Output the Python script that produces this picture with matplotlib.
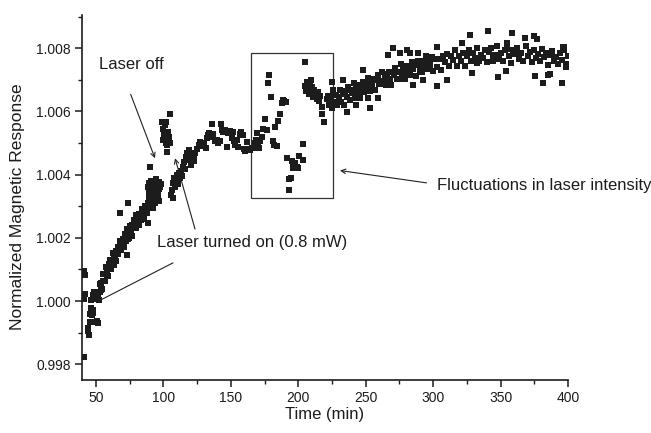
import matplotlib
matplotlib.use("Agg")
import matplotlib.pyplot as plt
from matplotlib.patches import Rectangle
from matplotlib.ticker import MultipleLocator, FormatStrFormatter

plt.rcParams['font.family'] = ['Liberation Sans', 'DejaVu Sans']

# ---------------- data ----------------
# early points, laser off
early_t = [41.3, 41.3, 41.6, 40.9, 41.8, 44.0, 44.4, 44.8, 45.7, 45.3, 46.2, 47.0, 47.9, 46.6,
           47.5, 49.2, 50.5, 51.4, 46.6, 47.9, 48.8, 49.7, 50.5, 51.4, 52.3, 52.8, 48.4]
early_r = [0.99824, 1.00096, 1.00082, 1.00008, 1.00022, 0.99905, 0.99915, 0.99892, 0.99935,
           0.99958, 0.99966, 0.99955, 0.99972, 0.99978, 0.99962, 0.99933, 0.99936, 0.99930,
           1.00002, 1.00018, 1.00008, 1.00024, 1.00012, 1.00020, 1.00004, 1.00030, 1.00030]

# rising band
rise_t = [53.0, 53.5, 54.0, 54.5, 55.0, 55.5, 56.0, 56.5, 57.0, 57.5, 58.0, 58.5, 59.0, 59.5,
          60.0, 60.5, 61.0, 61.5, 62.0, 62.5, 63.0, 63.5, 64.0, 64.5, 65.0, 65.5, 66.0, 66.5,
          67.0, 67.5, 68.0, 68.5, 69.0, 69.5, 70.0, 70.5, 71.0, 71.5, 72.0, 72.5, 73.0, 73.5,
          74.0, 74.5, 75.0, 75.5, 76.0, 76.5, 77.0, 77.5, 78.0, 78.5, 79.0, 79.5, 80.0, 80.5,
          81.0, 81.5, 82.0, 82.5, 83.0, 83.5, 84.0, 84.5, 85.0, 85.5, 86.0, 86.5, 87.0, 87.5,
          88.0, 88.5, 89.0, 89.5, 90.0, 90.5, 91.0, 91.5, 92.0, 92.5, 93.0, 93.5, 94.0, 94.5,
          95.0, 95.5, 96.0, 96.5, 97.0, 67.8, 72.7, 73.9, 88.8]
rise_r = [1.00054, 1.00036, 1.00056, 1.00038, 1.00087, 1.00063, 1.00085, 1.00063, 1.00085,
          1.00108, 1.00081, 1.00103, 1.00079, 1.00118, 1.00106, 1.00131, 1.00103, 1.00129,
          1.00124, 1.00151, 1.00115, 1.00141, 1.00132, 1.00157, 1.00127, 1.00154, 1.00172,
          1.00149, 1.00171, 1.00163, 1.00191, 1.00161, 1.00180, 1.00175, 1.00197, 1.00170,
          1.00198, 1.00211, 1.00191, 1.00200, 1.00227, 1.00197, 1.00216, 1.00200, 1.00229,
          1.00237, 1.00220, 1.00207, 1.00242, 1.00235, 1.00255, 1.00231, 1.00249, 1.00232,
          1.00273, 1.00250, 1.00264, 1.00241, 1.00275, 1.00258, 1.00272, 1.00257, 1.00292,
          1.00275, 1.00288, 1.00261, 1.00290, 1.00301, 1.00280, 1.00293, 1.00278, 1.00309,
          1.00295, 1.00324, 1.00293, 1.00315, 1.00308, 1.00329, 1.00296, 1.00326, 1.00314,
          1.00334, 1.00310, 1.00332, 1.00348, 1.00322, 1.00337, 1.00316, 1.00354,
          1.00278, 1.00146, 1.00310, 1.00246]

# cluster just before the laser-off arrow tip
off_t = [88.5, 89.5, 90.3, 91.0, 91.8, 92.5, 93.2, 94.0, 94.8, 95.5, 96.3, 97.0, 97.8, 98.5,
         90.0, 89.0, 93.5]
off_r = [1.00360, 1.00372, 1.00352, 1.00380, 1.00365, 1.00345, 1.00375, 1.00358, 1.00385,
         1.00362, 1.00348, 1.00378, 1.00360, 1.00370, 1.00425, 1.00342, 1.00340]

# high cluster (laser off)
high_t = [99.0, 100.0, 101.2, 99.5, 100.5, 101.5, 102.5, 100.0, 101.8, 103.0, 103.6, 104.5,
          102.6, 104.9, 102.0, 103.5, 104.0]
high_r = [1.00565, 1.00568, 1.00558, 1.00545, 1.00530, 1.00520, 1.00528, 1.00510, 1.00500,
          1.00495, 1.00512, 1.00500, 1.00473, 1.00593, 1.00565, 1.00535, 1.00520]

# recovery after laser turned on
rec_t = [105.5, 106.3, 107.0, 107.3, 108.0, 108.8, 109.5, 110.2, 111.0, 111.8, 112.5, 113.2,
         114.0, 114.7, 115.5, 116.2, 117.0, 117.8, 118.5, 119.3, 120.0, 120.8, 121.5, 122.3,
         123.0]
rec_r = [1.00335, 1.00350, 1.00372, 1.00325, 1.00390, 1.00362, 1.00380, 1.00398, 1.00370,
         1.00405, 1.00388, 1.00410, 1.00395, 1.00425, 1.00440, 1.00418, 1.00455, 1.00470,
         1.00445, 1.00478, 1.00462, 1.00432, 1.00470, 1.00455, 1.00442]

# plateau
plat_t = [123.5, 125.0, 126.0, 127.1, 128.5, 130.0, 131.2, 132.0, 133.0, 134.0, 135.0, 135.8,
          136.7, 138.2, 139.5, 140.5, 141.9, 142.7, 143.2, 144.5, 146.0, 146.9, 147.5, 149.0,
          150.6, 151.8, 152.5, 153.0, 154.3, 155.5, 156.7, 157.8, 159.2, 159.5, 160.8, 161.7,
          162.8, 164.0, 165.3]
plat_r = [1.00470, 1.00482, 1.00495, 1.00504, 1.00490, 1.00500, 1.00485, 1.00515, 1.00525,
          1.00532, 1.00520, 1.00560, 1.00528, 1.00505, 1.00510, 1.00500, 1.00508, 1.00560,
          1.00540, 1.00535, 1.00540, 1.00489, 1.00532, 1.00538, 1.00515, 1.00534, 1.00505,
          1.00495, 1.00510, 1.00489, 1.00530, 1.00536, 1.00526, 1.00480, 1.00475, 1.00504,
          1.00482, 1.00478, 1.00484]

# fluctuation region (inside the box)
fluc_t = [166.6, 167.8, 168.5, 169.1, 170.3, 171.0, 171.8, 172.8, 174.0, 175.3, 176.5, 177.3,
          178.5, 179.5, 181.0, 181.8, 182.7, 184.0, 185.1, 186.4, 187.6, 188.6, 189.6, 190.8,
          191.8, 193.1, 194.3, 195.0, 196.3, 197.5, 198.8, 200.0, 200.7, 203.2, 203.7, 204.9,
          205.2, 205.8, 206.5, 207.2, 207.8, 208.5, 209.2, 209.8, 210.5, 211.2, 212.0, 212.8,
          213.5, 214.3, 215.0, 215.8, 217.3, 217.5, 219.0, 193.3, 196.0]
fluc_r = [1.00484, 1.00500, 1.00510, 1.00531, 1.00490, 1.00484, 1.00505, 1.00520, 1.00544,
          1.00575, 1.00540, 1.00691, 1.00716, 1.00647, 1.00508, 1.00495, 1.00550, 1.00491,
          1.00571, 1.00592, 1.00626, 1.00636, 1.00632, 1.00630, 1.00452, 1.00352, 1.00389,
          1.00444, 1.00420, 1.00436, 1.00425, 1.00420, 1.00459, 1.00497, 1.00447, 1.00755,
          1.00680, 1.00665, 1.00692, 1.00672, 1.00655, 1.00685, 1.00700, 1.00660, 1.00678,
          1.00645, 1.00668, 1.00652, 1.00640, 1.00660, 1.00633, 1.00648, 1.00615, 1.00592,
          1.00568, 1.00385, 1.00430]

# late slow rise (main band)
late_t = [222, 223, 224, 225, 226, 227, 228, 229, 230, 231, 232, 233, 234, 235, 236, 237, 238,
          239, 240, 241, 242, 243, 244, 245, 246, 247, 248, 249, 250, 251, 252, 253, 254, 255,
          256, 257, 258, 259, 260, 261, 262, 263, 264, 265, 266, 267, 268, 269, 270, 271, 272,
          273, 274, 275, 276, 277, 278, 279, 280, 281, 282, 283, 284, 285, 286, 287, 288, 289,
          290, 291, 292, 293, 294, 295, 296, 297, 298, 299, 300, 301,
          302.5, 304, 305.5, 307, 308.5, 310, 311.5, 313, 314.5, 316, 317.5, 319, 320.5, 322,
          323.5, 325, 326.5, 328, 329.5, 331, 332.5, 334, 335.5, 337, 338.5, 340, 341.5, 343,
          344.5, 346, 347.5, 349, 350.5, 352, 353.5, 355, 356.5, 358, 359.5, 361, 362.5, 364,
          365.5, 367, 368.5, 370, 371.5, 373, 374.5, 376, 377.5, 379, 380.5, 382, 383.5, 385,
          386.5, 388, 389.5, 391, 392.5, 394, 395.5, 397, 398.5, 400]
late_r = [1.00648, 1.00620, 1.00638, 1.00610, 1.00667, 1.00630, 1.00652, 1.00621, 1.00645,
          1.00669, 1.00631, 1.00655, 1.00621, 1.00665, 1.00647, 1.00676, 1.00637, 1.00667,
          1.00657, 1.00689, 1.00641, 1.00670, 1.00656, 1.00684, 1.00644, 1.00675, 1.00694,
          1.00662, 1.00687, 1.00674, 1.00706, 1.00666, 1.00687, 1.00679, 1.00704, 1.00667,
          1.00700, 1.00714, 1.00686, 1.00695, 1.00726, 1.00686, 1.00707, 1.00684, 1.00718,
          1.00725, 1.00703, 1.00684, 1.00726, 1.00714, 1.00737, 1.00704, 1.00725, 1.00701,
          1.00751, 1.00719, 1.00735, 1.00703, 1.00744, 1.00720, 1.00736, 1.00715, 1.00757,
          1.00734, 1.00748, 1.00713, 1.00747, 1.00758, 1.00730, 1.00745, 1.00724, 1.00760,
          1.00741, 1.00775, 1.00734, 1.00759, 1.00748, 1.00772, 1.00729, 1.00765,
          1.00740, 1.00765, 1.00730, 1.00774, 1.00755, 1.00783, 1.00745, 1.00774, 1.00763,
          1.00794, 1.00745, 1.00774, 1.00759, 1.00786, 1.00745, 1.00775, 1.00793, 1.00760,
          1.00784, 1.00770, 1.00801, 1.00759, 1.00779, 1.00770, 1.00793, 1.00756, 1.00788,
          1.00800, 1.00771, 1.00779, 1.00808, 1.00766, 1.00786, 1.00761, 1.00793, 1.00799,
          1.00775, 1.00754, 1.00794, 1.00781, 1.00802, 1.00767, 1.00786, 1.00760, 1.00808,
          1.00775, 1.00788, 1.00755, 1.00793, 1.00768, 1.00781, 1.00758, 1.00798, 1.00773,
          1.00786, 1.00748, 1.00780, 1.00790, 1.00759, 1.00772, 1.00749, 1.00784, 1.00762,
          1.00794, 1.00751, 1.00774]

# scattered points around the late band
scat_t = [270.4, 266.7, 275.3, 282.8, 288.9, 248.1, 233.3, 224.7, 235.8, 242.7, 251.9, 259.3,
          253.1, 285.2, 266.7, 327.2, 340.8, 358.8, 368.0, 374.7, 377.1, 396.4, 398.4, 395.2,
          385.3, 381.6, 375.4, 353.9, 348.2, 344.1, 332.2, 328.5, 302.6, 310.0, 280.3, 303.0,
          354.9, 321.1, 396.9, 292.6, 386.5, 221.0, 226.0, 230.9]
scat_r = [1.00800, 1.00779, 1.00784, 1.00786, 1.00784, 1.00731, 1.00700, 1.00694, 1.00599,
          1.00621, 1.00642, 1.00642, 1.00610, 1.00684, 1.00689, 1.00842, 1.00853, 1.00847,
          1.00832, 1.00839, 1.00828, 1.00803, 1.00742, 1.00689, 1.00716, 1.00691, 1.00712,
          1.00729, 1.00708, 1.00758, 1.00753, 1.00721, 1.00681, 1.00700, 1.00795, 1.00805,
          1.00818, 1.00818, 1.00805, 1.00700, 1.00719, 1.00640, 1.00652, 1.00630]

time_all = early_t + rise_t + off_t + high_t + rec_t + plat_t + fluc_t + late_t + scat_t
resp_all = early_r + rise_r + off_r + high_r + rec_r + plat_r + fluc_r + late_r + scat_r

x_ticks = [50, 100, 150, 200, 250, 300, 350, 400]
y_ticks = [0.998, 1.000, 1.002, 1.004, 1.006, 1.008]

# box around fluctuations
box_t = (164.9, 225.7)
box_r = (1.00325, 1.00786)

# ---------------- figure ----------------
fig = plt.figure(figsize=(6.51, 4.33), dpi=100)
ax = fig.add_axes([82 / 651, (433 - 379.5) / 433, (568 - 82) / 651, (379.5 - 15) / 433])

ink = '#1c1c1c'
ax.scatter(time_all, resp_all, marker='s', s=16, color=ink, linewidths=0, zorder=3)

ax.set_xlim(39.6, 400)
ax.set_ylim(0.99752, 1.00905)

for side in ('top', 'right'):
    ax.spines[side].set_visible(False)
for side in ('left', 'bottom'):
    ax.spines[side].set_linewidth(1.2)
    ax.spines[side].set_color(ink)

ax.set_xticks(x_ticks)
ax.set_yticks(y_ticks)
ax.xaxis.set_minor_locator(MultipleLocator(25))
ax.yaxis.set_minor_locator(MultipleLocator(0.001))
ax.yaxis.set_major_formatter(FormatStrFormatter('%.3f'))
ax.tick_params(which='major', direction='out', length=5, width=1.1, colors=ink,
               labelsize=10, pad=3)
ax.tick_params(which='minor', direction='out', length=3, width=1.0, colors=ink)

ax.set_xlabel('Time (min)', fontsize=12, color=ink)
ax.set_ylabel('Normalized Magnetic Response', fontsize=12.5, color=ink)
ax.xaxis.label.set_va('center')
ax.yaxis.label.set_va('center')
ax.xaxis.set_label_coords(0.5, -0.097)
ax.yaxis.set_label_coords(-0.1317, 0.473)

ax.add_patch(Rectangle((box_t[0], box_r[0]), box_t[1] - box_t[0], box_r[1] - box_r[0],
                       fill=False, edgecolor='#333333', linewidth=0.9, zorder=2))

arrow_kw = dict(arrowstyle='->', lw=0.8, color='#222222', shrinkA=0, shrinkB=0,
                mutation_scale=8)
ax.annotate('', xy=(93.7, 1.00452), xytext=(75.7, 1.00654), arrowprops=arrow_kw, zorder=2)
ax.annotate('', xy=(108.6, 1.00452), xytext=(123.4, 1.00228), arrowprops=arrow_kw, zorder=2)
ax.annotate('', xy=(54.1, 1.00005), xytext=(107.1, 1.00121),
            arrowprops=dict(arrowstyle='-', lw=0.8, color='#222222', shrinkA=0, shrinkB=0),
            zorder=2)
ax.annotate('', xy=(230.9, 1.00413), xytext=(295.1, 1.00374), arrowprops=arrow_kw, zorder=2)

ax.text(52.4, 1.00747, 'Laser off', fontsize=12, color=ink, ha='left', va='center')
ax.text(95.0, 1.00184, 'Laser turned on (0.8 mW)', fontsize=12, color=ink,
        ha='left', va='center')
ax.text(302.8, 1.00367, 'Fluctuations in laser intensity', fontsize=12, color=ink,
        ha='left', va='center', clip_on=False)

fig.savefig('out.png', dpi=100)
